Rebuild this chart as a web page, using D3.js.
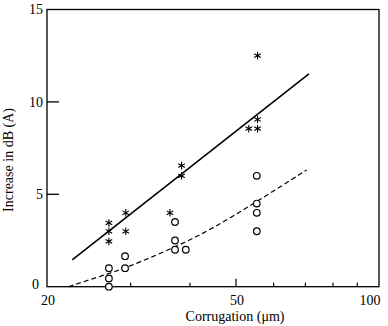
<!DOCTYPE html>
<html>
<head>
<meta charset="utf-8">
<script src="https://cdn.jsdelivr.net/npm/d3@7"></script>
<style>
  body { margin: 0; background: #fff; }
  text { font-family: "Liberation Serif", "Times New Roman", serif; fill: #000; }
</style>
</head>
<body>
<div id="chart"></div>
<script>
// values (x in µm, y in dB(A))
const circleX = [27, 27, 27, 29.2, 29.2, 37.2, 37.2, 37.2, 39.2, 55.3, 55.3, 55.3, 55.3];
const circleY = [1, 0.45, 0, 1.65, 1, 3.5, 2.5, 2, 2, 6, 4.5, 4, 3];
const starX = [27, 27, 27, 29.3, 29.3, 36.3, 38.4, 38.4, 55.5, 55.5, 53.2, 55.5];
const starY = [3.45, 3, 2.45, 4, 3, 4, 6.55, 6, 12.5, 9.05, 8.55, 8.55];
const fitX = [22.6, 71.2];
const fitY = [1.45, 11.52];
const dashX = [22.2, 27.1, 29.2, 37.2, 44.8, 55.3, 70.4];
const dashY = [0, 0.73, 1.0, 2.13, 3.16, 4.6, 6.32];

const yTicks = [0, 5, 10, 15];
const xLabels = [20, 50, 100];
const xMinor = [30, 40, 60, 70, 80, 90];

const width = 388, height = 326;
const plotLeft = 47, plotRight = 379, plotTop = 9.5, plotBottom = 286.7;

const svg = d3.select("#chart").append("svg")
    .attr("width", width)
    .attr("height", height);

const x = d3.scaleLog().domain([20, 100]).range([plotLeft, plotRight]);
const y = d3.scaleLinear().domain([0, 15]).range([plotBottom, plotTop]);

// frame
svg.append("rect")
    .attr("x", plotLeft).attr("y", plotTop)
    .attr("width", plotRight - plotLeft).attr("height", plotBottom - plotTop)
    .attr("fill", "none").attr("stroke", "#000").attr("stroke-width", 1.3);

// y ticks (inward) and labels
svg.selectAll(".ytick")
    .data([5, 10])
    .join("line")
    .attr("x1", plotLeft).attr("x2", plotLeft + 12)
    .attr("y1", d => y(d)).attr("y2", d => y(d))
    .attr("stroke", "#000").attr("stroke-width", 1.3);

svg.selectAll(".ylab")
    .data(yTicks)
    .join("text")
    .attr("x", d => d === 0 ? 39 : 43)
    .attr("y", d => d === 0 ? y(d) - 3 : y(d))
    .attr("dy", "0.35em")
    .attr("text-anchor", "end")
    .attr("font-size", 14)
    .text(d => d);

// x ticks
svg.selectAll(".xmaj")
    .data([50])
    .join("line")
    .attr("x1", d => x(d)).attr("x2", d => x(d))
    .attr("y1", plotBottom).attr("y2", plotBottom - 8)
    .attr("stroke", "#000").attr("stroke-width", 1.2);

svg.selectAll(".xmin")
    .data(xMinor)
    .join("line")
    .attr("x1", d => x(d)).attr("x2", d => x(d))
    .attr("y1", plotBottom).attr("y2", plotBottom - 4)
    .attr("stroke", "#000").attr("stroke-width", 1.2);

svg.selectAll(".xlab")
    .data(xLabels)
    .join("text")
    .attr("x", d => d === 100 ? x(d) - 9 : x(d) + 1)
    .attr("y", 305)
    .attr("text-anchor", "middle")
    .attr("font-size", 14)
    .text(d => d);

// axis titles
svg.append("text")
    .attr("x", 235).attr("y", 321)
    .attr("text-anchor", "middle")
    .attr("font-size", 14)
    .text("Corrugation (\u03bcm)");

svg.append("text")
    .attr("transform", "translate(13,160) rotate(-90)")
    .attr("text-anchor", "middle")
    .attr("font-size", 14)
    .text("Increase in dB (A)");

// fitted lines
const line = d3.line()
    .x(d => x(d[0]))
    .y(d => y(d[1]));

svg.append("path")
    .attr("d", line(d3.zip(fitX, fitY)))
    .attr("fill", "none").attr("stroke", "#000").attr("stroke-width", 1.6);

svg.append("path")
    .attr("d", line.curve(d3.curveBasis)(d3.zip(dashX, dashY)))
    .attr("fill", "none").attr("stroke", "#000").attr("stroke-width", 1.2)
    .attr("stroke-dasharray", "5,3");

// markers
svg.selectAll(".circ")
    .data(d3.zip(circleX, circleY))
    .join("circle")
    .attr("cx", d => x(d[0]))
    .attr("cy", d => y(d[1]))
    .attr("r", 3.3)
    .attr("fill", "#fff").attr("stroke", "#000").attr("stroke-width", 1.2);

const star = d3.symbol().type(d3.symbolAsterisk).size(40);
svg.selectAll(".star")
    .data(d3.zip(starX, starY))
    .join("path")
    .attr("transform", d => `translate(${x(d[0])},${y(d[1])})`)
    .attr("d", star)
    .attr("fill", "none").attr("stroke", "#000").attr("stroke-width", 1.1);
</script>
</body>
</html>
